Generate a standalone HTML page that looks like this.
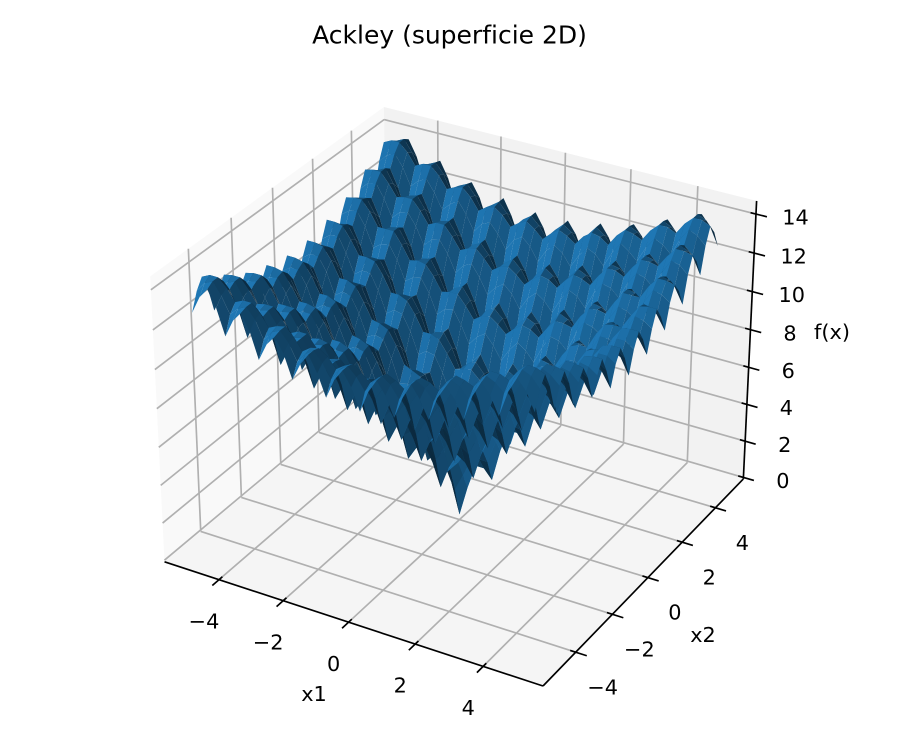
<!DOCTYPE html>
<html lang="es">
<head>
<meta charset="utf-8">
<title>Ackley (superficie 2D)</title>
<style>
html,body{margin:0;padding:0;background:#fff;}
svg{display:block;font-family:"DejaVu Sans","Liberation Sans",sans-serif;}
</style>
</head>
<body>
<svg id="chart" xmlns="http://www.w3.org/2000/svg" width="900" height="750" viewBox="0 0 900 750">
  <rect x="0" y="0" width="900" height="750" fill="#ffffff"/>
  <g id="panes"></g>
  <g id="grid"></g>
  <g id="surface"></g>
  <g id="axes"></g>
  <g id="labels" font-size="20.83" fill="#000" text-anchor="middle"></g>
  <text x="449.5" y="43.5" font-size="25" text-anchor="middle" fill="#000">Ackley (superficie 2D)</text>
  <text x="314" y="701" font-size="20.83" text-anchor="middle" fill="#000">x1</text>
  <text x="703" y="642" font-size="20.83" text-anchor="middle" fill="#000">x2</text>
  <text x="832" y="339" font-size="20.83" text-anchor="middle" fill="#000">f(x)</text>
</svg>
<script>
// Distance from the centre along each surface axis (the table below is mirrored into all four quadrants)
const quadrantAxis = [0,0.25,0.5,0.75,1,1.25,1.5,1.75,2,2.25,2.5,2.75,3,3.25,3.5,3.75,4,4.25,4.5,4.75,5];
// f(x1,x2): row = |x2| index, column = |x1| index
const zQuadrant = [
[0.2,1.8,3.1,3.1,2.6,4.3,5.5,5.5,4.9,6.5,7.7,7.5,6.9,8.4,9.5,9.3,8.6,10.1,11.1,10.9,10.1],
[1.8,2.7,3.6,3.8,3.8,5.0,6.0,6.1,6.0,7.2,8.1,8.2,8.0,9.1,9.9,10.0,9.7,10.8,11.5,11.5,11.2],
[3.1,3.6,4.3,4.5,4.6,5.6,6.4,6.6,6.8,7.7,8.4,8.6,8.7,9.5,10.2,10.4,10.4,11.2,11.8,11.9,11.9],
[3.1,3.8,4.5,4.5,4.3,5.4,6.3,6.4,6.3,7.4,8.3,8.4,8.2,9.2,10.1,10.1,9.8,10.9,11.6,11.6,11.3],
[2.6,3.8,4.6,4.3,3.6,5.1,6.2,6.0,5.4,6.9,8.0,7.8,7.2,8.7,9.8,9.5,8.8,10.3,11.3,11.0,10.3],
[4.3,5.0,5.6,5.4,5.1,6.1,6.9,7.0,6.7,7.8,8.6,8.7,8.4,9.5,10.3,10.3,10.0,11.0,11.8,11.7,11.4],
[5.5,6.0,6.4,6.3,6.2,6.9,7.5,7.7,7.7,8.5,9.1,9.3,9.3,10.1,10.7,10.8,10.8,11.5,12.1,12.2,12.2],
[5.5,6.1,6.6,6.4,6.0,7.0,7.7,7.6,7.3,8.4,9.1,9.1,8.8,9.9,10.6,10.6,10.3,11.3,12.0,11.9,11.6],
[4.9,6.0,6.8,6.3,5.4,6.7,7.7,7.3,6.6,8.0,9.0,8.7,8.0,9.4,10.4,10.1,9.4,10.8,11.7,11.4,10.7],
[6.5,7.2,7.7,7.4,6.9,7.8,8.5,8.4,8.0,9.0,9.7,9.6,9.3,10.3,11.0,10.9,10.6,11.6,12.3,12.2,11.9],
[7.7,8.1,8.4,8.3,8.0,8.6,9.1,9.1,9.0,9.7,10.2,10.3,10.2,10.9,11.5,11.5,11.5,12.2,12.7,12.7,12.6],
[7.5,8.2,8.6,8.4,7.8,8.7,9.3,9.1,8.7,9.6,10.3,10.2,9.8,10.8,11.5,11.4,11.0,11.9,12.6,12.5,12.1],
[6.9,8.0,8.7,8.2,7.2,8.4,9.3,8.8,8.0,9.3,10.2,9.8,9.0,10.4,11.3,10.9,10.1,11.5,12.4,12.0,11.2],
[8.4,9.1,9.5,9.2,8.7,9.5,10.1,9.9,9.4,10.3,10.9,10.8,10.4,11.3,11.9,11.8,11.4,12.3,13.0,12.9,12.5],
[9.5,9.9,10.2,10.1,9.8,10.3,10.7,10.6,10.4,11.0,11.5,11.5,11.3,11.9,12.4,12.4,12.3,12.9,13.4,13.4,13.3],
[9.3,10.0,10.4,10.1,9.5,10.3,10.8,10.6,10.1,10.9,11.5,11.4,10.9,11.8,12.4,12.3,11.9,12.7,13.4,13.2,12.8],
[8.6,9.7,10.4,9.8,8.8,10.0,10.8,10.3,9.4,10.6,11.5,11.0,10.1,11.4,12.3,11.9,11.0,12.3,13.2,12.8,11.9],
[10.1,10.8,11.2,10.9,10.3,11.0,11.5,11.3,10.8,11.6,12.2,11.9,11.5,12.3,12.9,12.7,12.3,13.2,13.8,13.6,13.2],
[11.1,11.5,11.8,11.6,11.3,11.8,12.1,12.0,11.7,12.3,12.7,12.6,12.4,13.0,13.4,13.4,13.2,13.8,14.2,14.2,14.0],
[10.9,11.5,11.9,11.6,11.0,11.7,12.2,11.9,11.4,12.2,12.7,12.5,12.0,12.9,13.4,13.2,12.8,13.6,14.2,14.0,13.5],
[10.1,11.2,11.9,11.3,10.3,11.4,12.2,11.6,10.7,11.9,12.6,12.1,11.2,12.5,13.3,12.8,11.9,13.2,14.0,13.5,12.6]
];
const x1Ticks = [-4,-2,0,2,4];
const x1TickLabels = ['−4','−2','0','2','4'];
const x2Ticks = [-4,-2,0,2,4];
const x2TickLabels = ['−4','−2','0','2','4'];
const zTicks = [0,2,4,6,8,10,12,14];
const zTickLabels = ['0','2','4','6','8','10','12','14'];
const baseColor = [31,119,180];

const NS = 'http://www.w3.org/2000/svg';
const xyLim = 5.5, zLimLow = 0.21, zLimHigh = 14.37;
const paneFrac = 1/48;
const xyPane = xyLim + 2*xyLim*paneFrac;
const zPaneLow = zLimLow - (zLimHigh-zLimLow)*paneFrac;
const zPaneHigh = zLimHigh + (zLimHigh-zLimLow)*paneFrac;
const boxXY = 1.1905, boxZ = 0.8929;
const u = [0.8660254,0.5,0], v = [-0.25,0.4330127,0.8660254], w = [0.4330127,-0.75,0.5];
const pxScale = 3495, originX = 459.5, originY = 382;

function viewCoords(x,y,z){
  const qx = x/(2*xyLim)*boxXY;
  const qy = y/(2*xyLim)*boxXY;
  const qz = (z-(zLimLow+zLimHigh)/2)/(zLimHigh-zLimLow)*boxZ;
  return {
    a: u[0]*qx+u[1]*qy+u[2]*qz,
    b: v[0]*qx+v[1]*qy+v[2]*qz,
    c: w[0]*qx+w[1]*qy+w[2]*qz
  };
}
function project(x,y,z){
  const t = viewCoords(x,y,z);
  const d = 10 - t.c;
  return [originX + pxScale*t.a/d, originY - pxScale*t.b/d, t.c];
}
function pts(list){
  return list.map(function(p){return p[0].toFixed(2)+','+p[1].toFixed(2);}).join(' ');
}
function addPane(name,corners,fill){
  const el = document.createElementNS(NS,'polygon');
  
  
  el.setAttribute('points', pts(corners));
  el.setAttribute('fill', fill);
  document.getElementById('panes').appendChild(el);
}
function addLine(parentId,name,p,q,color,width){
  const el = document.createElementNS(NS,'line');
  
  
  el.setAttribute('x1', p[0].toFixed(2));
  el.setAttribute('y1', p[1].toFixed(2));
  el.setAttribute('x2', q[0].toFixed(2));
  el.setAttribute('y2', q[1].toFixed(2));
  el.setAttribute('stroke', color);
  el.setAttribute('stroke-width', width);
  document.getElementById(parentId).appendChild(el);
}
function addLabel(name,text,cx,cy){
  const el = document.createElementNS(NS,'text');
  
  
  el.setAttribute('x', cx.toFixed(1));
  el.setAttribute('y', (cy+7.6).toFixed(1));
  el.textContent = text;
  document.getElementById('labels').appendChild(el);
}

const P = xyPane, ZL = zPaneLow, ZH = zPaneHigh;
addPane('left-wall-pane',[project(-P,-P,ZL),project(-P,P,ZL),project(-P,P,ZH),project(-P,-P,ZH)],'#f9f9f9');
addPane('back-wall-pane',[project(-P,P,ZL),project(P,P,ZL),project(P,P,ZH),project(-P,P,ZH)],'#f2f2f2');
addPane('floor-pane',[project(-P,-P,ZL),project(P,-P,ZL),project(P,P,ZL),project(-P,P,ZL)],'#f5f5f5');

const gridColor = '#b0b0b0', gridWidth = 1.67, axisWidth = 1.67;
x1Ticks.forEach(function(t,k){
  addLine('grid','x1-floor-grid-line',project(t,-P,ZL),project(t,P,ZL),gridColor,gridWidth);
  addLine('grid','x1-wall-grid-line',project(t,P,ZL),project(t,P,ZH),gridColor,gridWidth);
  const a = project(t,-P,ZL);
  addLine('axes','x1-tick',project(t,-P+0.16,ZL),project(t,-P-0.32,ZL),'#000',1.67);
  addLabel('x1-tick-label',x1TickLabels[k],a[0]-15,a[1]+41);
});
x2Ticks.forEach(function(t,k){
  addLine('grid','x2-floor-grid-line',project(P,t,ZL),project(-P,t,ZL),gridColor,gridWidth);
  addLine('grid','x2-wall-grid-line',project(-P,t,ZL),project(-P,t,ZH),gridColor,gridWidth);
  const a = project(P,t,ZL);
  addLine('axes','x2-tick',project(P-0.16,t,ZL),project(P+0.32,t,ZL),'#000',1.67);
  addLabel('x2-tick-label',x2TickLabels[k],a[0]+27,a[1]+34.5);
});
zTicks.forEach(function(t,k){
  addLine('grid','z-left-grid-line',project(-P,-P,t),project(-P,P,t),gridColor,gridWidth);
  addLine('grid','z-back-grid-line',project(-P,P,t),project(P,P,t),gridColor,gridWidth);
  const a = project(P,P,t);
  addLine('axes','z-tick',project(P-0.16,P,t),project(P+0.32,P,t),'#000',1.67);
  addLabel('z-tick-label',zTickLabels[k],a[0]+39.5,a[1]+3);
});
addLine('axes','x1-axis-line',project(-P,-P,ZL),project(P,-P,ZL),'#000',axisWidth);
addLine('axes','x2-axis-line',project(P,-P,ZL),project(P,P,ZL),'#000',axisWidth);
addLine('axes','z-axis-line',project(P,P,ZL),project(P,P,ZH),'#000',axisWidth);

// Surface: one facet per grid cell, flat-shaded and painted far to near
const half = quadrantAxis.length-1;
function gridX(i){ return i<0 ? -quadrantAxis[-i] : quadrantAxis[i]; }
function gridZ(i,j){ return zQuadrant[Math.abs(j)][Math.abs(i)]; }
const light = [-0.6667,-0.6667,0.3333];
const facets = [];
for(let j=-half;j<half;j++){
  for(let i=-half;i<half;i++){
    const x0=gridX(i), x1=gridX(i+1), y0=gridX(j), y1=gridX(j+1);
    const z00=gridZ(i,j), z10=gridZ(i+1,j), z11=gridZ(i+1,j+1), z01=gridZ(i,j+1);
    const c = [project(x0,y0,z00),project(x1,y0,z10),project(x1,y1,z11),project(x0,y1,z01)];
    const d1=[x1-x0,y1-y0,z11-z00], d2=[x0-x1,y1-y0,z01-z10];
    let n=[d1[1]*d2[2]-d1[2]*d2[1],d1[2]*d2[0]-d1[0]*d2[2],d1[0]*d2[1]-d1[1]*d2[0]];
    const len=Math.hypot(n[0],n[1],n[2]);
    n=n.map(function(q){return q/len;});
    const shade=n[0]*light[0]+n[1]*light[1]+n[2]*light[2];
    const f=0.3+0.7*(shade+1)/2;
    facets.push({c:c,f:f,depth:(c[0][2]+c[1][2]+c[2][2]+c[3][2])/4});
  }
}
facets.sort(function(a,b){return a.depth-b.depth;});
const surfaceGroup=document.getElementById('surface');
facets.forEach(function(t){
  const el=document.createElementNS(NS,'polygon');
  
  
  el.setAttribute('points', pts(t.c));
  el.setAttribute('fill', 'rgb('+baseColor.map(function(q){return Math.round(q*t.f);}).join(',')+')');
  surfaceGroup.appendChild(el);
});
</script>
</body>
</html>
